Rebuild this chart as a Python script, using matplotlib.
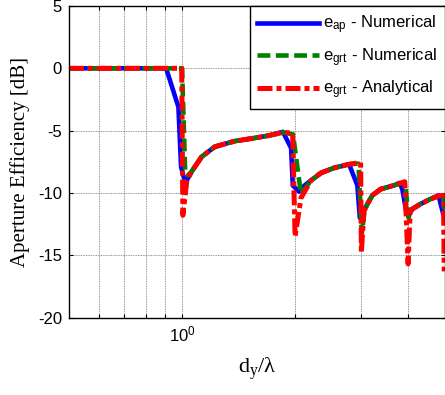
import numpy as np
import matplotlib
matplotlib.use('Agg')
import matplotlib.pyplot as plt
from matplotlib.ticker import FixedLocator, NullFormatter

plt.rcParams['font.family'] = 'Liberation Sans'
plt.rcParams['mathtext.fontset'] = 'custom'
plt.rcParams['mathtext.rm'] = 'Liberation Sans'
plt.rcParams['axes.unicode_minus'] = False

# e_ap - numerical
x_ap = [0.50, 0.907, 0.978, 0.994, 1.012, 1.029, 1.06, 1.128, 1.222, 1.379, 1.557, 1.70, 1.856,
        1.952, 1.972, 2.049, 2.12, 2.205, 2.344, 2.537, 2.786, 2.93, 2.975, 3.06, 3.116, 3.212,
        3.379, 3.664, 3.80, 3.86, 3.96, 4.02, 4.10, 4.311, 4.58, 4.82, 4.96, 5.0]
e_ap = [0, 0, -3.1, -7.9, -8.8, -9.0, -8.3, -7.1, -6.3, -5.85, -5.6, -5.4, -5.1,
        -6.4, -9.4, -9.9, -9.4, -9.0, -8.4, -8.0, -7.7, -9.4, -12.0, -11.3, -10.9, -10.2,
        -9.7, -9.4, -9.2, -9.7, -11.6, -11.8, -11.3, -10.9, -10.5, -10.2, -11.7, -12.0]

# e_grt - numerical
x_grt = [0.50, 1.0, 1.02, 1.04, 1.06, 1.128, 1.222, 1.379, 1.557, 1.70, 1.856, 1.975, 2.074,
         2.205, 2.344, 2.537, 2.786, 2.95, 3.01, 3.06, 3.116, 3.212, 3.379, 3.664, 3.894,
         3.93, 4.01, 4.047, 4.10, 4.311, 4.58, 4.82, 4.95, 5.0]
e_grt = [0, 0, -8.5, -8.6, -8.3, -7.1, -6.3, -5.85, -5.6, -5.4, -5.15, -5.3, -10.1,
         -9.0, -8.4, -8.0, -7.7, -7.65, -13.3, -11.5, -10.9, -10.2, -9.7, -9.4, -9.16,
         -9.3, -12.0, -11.6, -11.3, -10.9, -10.5, -10.25, -10.2, -11.5]

# e_grt - analytical
x_an = [0.50, 0.998, 1.005, 1.03, 1.06, 1.128, 1.222, 1.379, 1.557, 1.70, 1.856, 1.97, 2.0,
        2.074, 2.205, 2.344, 2.537, 2.786, 2.99, 3.003, 3.05, 3.116, 3.212, 3.379, 3.664,
        3.92, 4.0, 4.05, 4.10, 4.311, 4.58, 4.82, 4.97, 4.99]
e_an = [0, 0, -11.8, -9.0, -8.3, -7.1, -6.3, -5.85, -5.6, -5.4, -5.15, -5.2, -13.5,
        -10.4, -9.0, -8.4, -8.0, -7.7, -7.57, -14.8, -11.5, -10.9, -10.2, -9.7, -9.4,
        -9.1, -15.7, -11.5, -11.3, -10.9, -10.5, -10.25, -10.2, -16.3]

labels = [r'$\mathregular{e_{ap}}$ - Numerical',
          r'$\mathregular{e_{grt}}$ - Numerical',
          r'$\mathregular{e_{grt}}$ - Analytical']

fig = plt.figure(figsize=(4.45, 3.95), dpi=100)
ax = fig.add_axes([69/445, 1 - 317.5/395, (444.5 - 69)/445, (317.5 - 6)/395])

ax.plot(x_ap, e_ap, color='#0000ff', lw=3.3, label=labels[0])
ax.plot(x_grt, e_grt, color='#008000', lw=3.3, dashes=(2.8, 1.2), label=labels[1])
ax.plot(x_an, e_an, color='#ff0000', lw=3.6, dashes=(3, 0.8, 1, 0.8), label=labels[2])

ax.set_xscale('log')
ax.set_xlim(0.5, 5)
ax.set_ylim(-20, 5)
ax.set_yticks([-20, -15, -10, -5, 0, 5])
ax.xaxis.set_major_locator(FixedLocator([1]))
ax.set_xticklabels([r'$\mathregular{10^0}$'])
ax.xaxis.set_minor_locator(FixedLocator([0.6, 0.7, 0.8, 0.9, 2, 3, 4]))
ax.xaxis.set_minor_formatter(NullFormatter())
ax.tick_params(which='both', direction='in', top=True, right=True, length=3, width=0.8,
               labelsize=12, pad=5)
ax.grid(True, which='both', color='0.45', lw=0.6, ls=(0, (1, 1)))

for s in ax.spines.values():
    s.set_linewidth(1.0)

ax.set_ylabel('Aperture Efficiency [dB]', family='Liberation Serif', fontsize=15, labelpad=6)
ax.set_xlabel(r'$\mathregular{d_y/λ}$', family='Liberation Serif', fontsize=16, labelpad=8)

leg = ax.legend(loc='upper right', borderaxespad=0, fontsize=12, handlelength=3.7,
                handletextpad=0.25, labelspacing=0.6, borderpad=0.45, fancybox=False,
                framealpha=1, edgecolor='black')
leg.get_frame().set_linewidth(1.0)

fig.savefig('out.png', dpi=100)
